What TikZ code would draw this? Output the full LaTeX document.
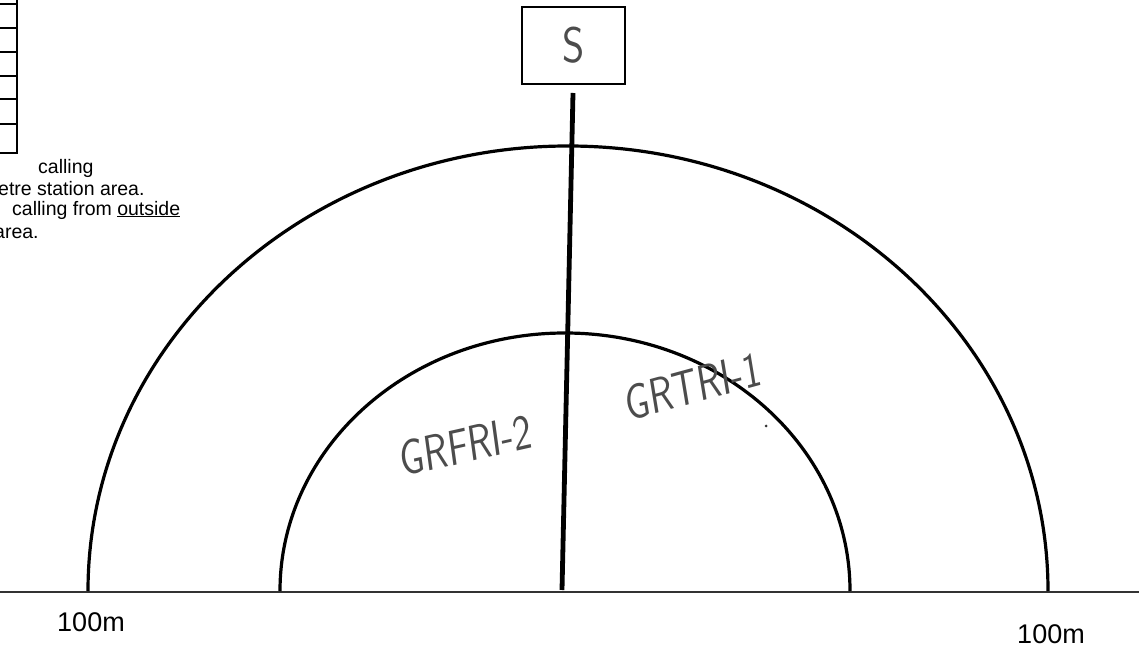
\documentclass[tikz,border=0pt]{standalone}
\usepackage{fontspec}
\setmainfont{Liberation Sans}
\newfontfamily\handfont{Latin Modern Sans}
\tikzset{
  arcline/.style={line width=3.2pt, black},
  pole/.style={line width=4.8pt, black},
  ground/.style={line width=2pt, black!80},
  tabline/.style={line width=1.4pt, black},
  note/.style={anchor=west, inner sep=0pt, font=\fontsize{19.5}{21}\selectfont},
  dist/.style={inner sep=0pt, font=\fontsize{27}{27}\selectfont},
  hand/.style={inner sep=0pt, text=black!70, font=\handfont\fontsize{50}{50}\selectfont, transform shape, xscale=0.78},
  sbox/.style={draw, line width=2pt, minimum width=103pt, minimum height=77pt, inner sep=0pt}
}
\begin{document}
\begin{tikzpicture}[x=1pt,y=1pt]
\useasboundingbox (0,0) rectangle (1139,648);
\begin{scope}
\clip (0,0) rectangle (1139,648);
% partial table at top-left
\draw[tabline] (17,648) -- (17,648-153) -- (0,648-153);
\foreach \yy in {4,28,52,76,99,124}{
  \draw[tabline] (0,648-\yy) -- (17,648-\yy);
}
% notes
\node[note] (n1) at (38,648-168) {calling};
\node[note] (n2) at (-2,648-189) {etre station area.};
\node[note] (n3) at (12,648-210) {calling from \underline{outside}};
\node[note] (n4) at (-6,648-233) {area.};
\end{scope}

% station box
\node[sbox] (S) at (573.5,648-45.5) {};
\node[hand, xscale=0.85/0.78] (Slabel) at (S.center) {S};

% pole
\coordinate (top) at (573,648-93);
\coordinate (bot) at (562,648-590);
\draw[pole] (top) -- (bot);

% ground line
\coordinate (gl) at (0,648-592);
\coordinate (gr) at (1139,648-592);
\draw[ground] (gl) -- (gr);

% arcs
\draw[arcline] (88,648-591) arc[start angle=180, end angle=0, x radius=480, y radius=445];
\draw[arcline] (280,648-591) arc[start angle=180, end angle=0, x radius=285, y radius=258];

% handwritten labels
\node[hand, rotate=10] (g2) at (466,648-445) {GRFRI-2};
\node[hand, rotate=12] (g1) at (693,648-386) {GRTRI-1};
\fill[black!80] (766,648-426) circle (1.5);

% distance labels
\node[dist] (d1) at (91,648-622) {100m};
\node[dist] (d2) at (1051,648-634) {100m};
\end{tikzpicture}
\end{document}
